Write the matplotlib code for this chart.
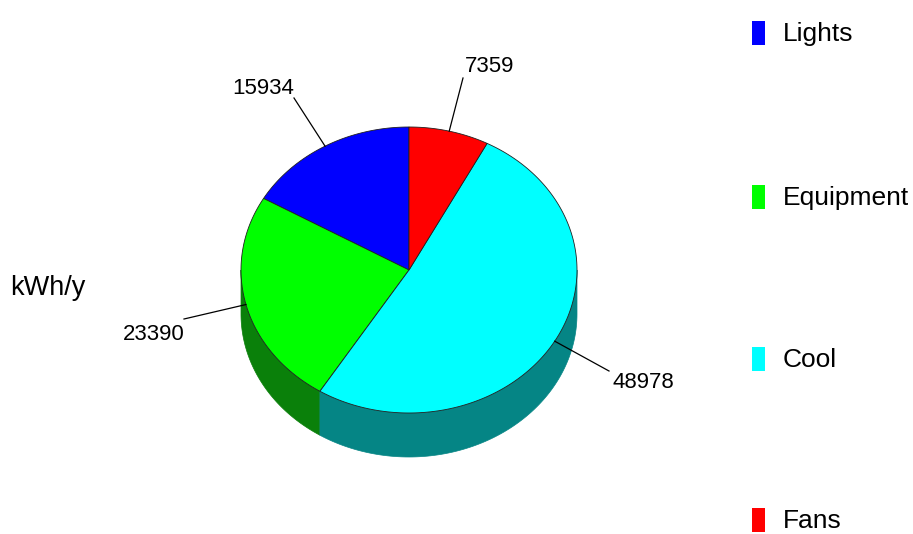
#!/usr/bin/python3

import numpy as np
import matplotlib.pyplot as plt
from matplotlib.patches import Polygon, Rectangle

plt.rcParams['font.family'] = ['Liberation Sans', 'DejaVu Sans']

# Datos
labels = ['Lights', 'Equipment', 'Cool', 'Fans']
values = [15934, 23390, 48978, 7359]
colors = ['#0000ff', '#00ff00', '#00ffff', '#ff0000']
side_colors = ['#00008b', '#0a800a', '#058585', '#8b0000']
unit = 'kWh/y'

# pie geometry (pixels)
cx, cy = 409, 270
rx, ry = 168, 143
depth = 44
start = 90

# label text centres and leader end points
label_pos = [(263, 89), (154, 334), (643, 383), (490, 66)]
leader_end = [(294, 98), (184, 319), (609, 371), (463, 78)]

fig = plt.figure(figsize=(9.13, 5.34), dpi=100)
ax = fig.add_axes([0, 0, 1, 1])
ax.set_xlim(0, 913)
ax.set_ylim(534, 0)
ax.axis('off')


def ell(theta, dy=0):
    t = np.radians(theta)
    return np.column_stack([cx + rx * np.cos(t), cy - ry * np.sin(t) + dy])


fracs = np.array(values) / np.sum(values)
edges = start + np.concatenate([[0], np.cumsum(fracs) * 360])

# side walls (front half only)
for i in range(len(values)):
    a, b = edges[i], edges[i + 1]
    for lo, hi in [(180, 360), (540, 720)]:
        s, e = max(a, lo), min(b, hi)
        if e > s:
            th = np.linspace(s, e, 100)
            pts = np.vstack([ell(th), ell(th[::-1], depth)])
            ax.add_patch(Polygon(pts, closed=True, fc=side_colors[i],
                                 ec=side_colors[i], lw=0.5, zorder=1))

# top wedges
for i in range(len(values)):
    th = np.linspace(edges[i], edges[i + 1], 200)
    pts = np.vstack([[cx, cy], ell(th)])
    ax.add_patch(Polygon(pts, closed=True, fc=colors[i], ec='#202020',
                         lw=0.6, zorder=2))

# value labels with leader lines
for i in range(len(values)):
    mid = (edges[i] + edges[i + 1]) / 2
    p = ell(np.array([mid]))[0]
    ex, ey = leader_end[i]
    ax.plot([p[0], ex], [p[1], ey], color='black', lw=0.9, zorder=3)
    ax.text(label_pos[i][0], label_pos[i][1], str(values[i]), fontsize=16,
            ha='center', va='center', color='black')

ax.text(10, 288, unit, fontsize=19.5, ha='left', va='center')

# legend
leg_y = [33, 197, 359, 520]
for i in range(len(labels)):
    ax.add_patch(Rectangle((752, leg_y[i] - 12), 13, 24, fc=colors[i],
                           ec='none', zorder=3))
    ax.text(783, leg_y[i] + 1, labels[i], fontsize=19, ha='left', va='center')

fig.savefig('out.png', dpi=100)
